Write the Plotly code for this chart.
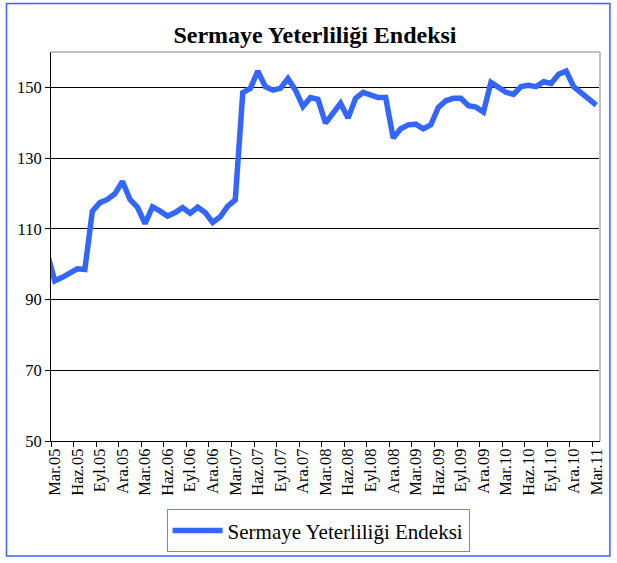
import plotly.graph_objects as go

# Turkish month abbreviations used for the monthly labels
month_abbr = ["Oca", "Şub", "Mar", "Nis", "May", "Haz",
              "Tem", "Ağu", "Eyl", "Eki", "Kas", "Ara"]

# Monthly series, Şub.05 .. Mar.11 (the first month sits just left of the axis)
months = [f"{month_abbr[(1 + k) % 12]}.{5 + (1 + k) // 12:02d}" for k in range(74)]
index_values = [
    103.0,
    95.3, 96.3, 97.5, 98.7, 98.5, 115.0, 117.4, 118.3, 119.9, 123.4, 118.3, 116.1,
    111.5, 116.2, 115.0, 113.6, 114.6, 116.0, 114.4, 116.1, 114.6, 111.8, 113.4, 116.4,
    118.2, 148.5, 149.7, 154.6, 150.2, 149.2, 149.7, 152.5, 149.2, 144.6, 147.1, 146.6,
    139.9, 142.7, 145.5, 141.3, 146.9, 148.6, 148.0, 147.1, 147.1, 135.7, 138.3, 139.4,
    139.6, 138.3, 139.4, 144.3, 146.2, 146.9, 146.9, 144.8, 144.4, 143.0, 151.4, 150.2,
    148.6, 148.0, 150.2, 150.6, 150.2, 151.6, 151.1, 153.7, 154.6, 150.2, 148.6, 146.9,
    145.0,
]

# Quarterly axis labels
tick_labels = [m for m in months if m.split(".")[0] in ("Mar", "Haz", "Eyl", "Ara")]
y_ticks = [50, 70, 90, 110, 130, 150]

series_name = "Sermaye Yeterliliği Endeksi"

# month position: Mar.05 -> 0
x_pos = [k - 1 for k in range(len(months))]
label_pos = [x_pos[months.index(t)] for t in tick_labels]

serif = "Liberation Serif, Times New Roman, serif"
line_blue = "#3366FF"

fig = go.Figure()
fig.add_trace(go.Scatter(
    x=x_pos, y=index_values, mode="lines", name=series_name,
    line=dict(color=line_blue, width=5.5),
    customdata=months, hovertemplate="%{customdata}: %{y}<extra></extra>",
))

fig.update_layout(
    width=617, height=563,
    margin=dict(l=51, r=11, t=52, b=119),
    paper_bgcolor="white", plot_bgcolor="white",
    font=dict(family=serif, color="black"),
    title=dict(text="<b>Sermaye Yeterliliği Endeksi</b>",
               font=dict(family=serif, size=24, color="black"),
               x=315 / 617, xref="container", xanchor="center",
               y=1 - 35 / 563, yref="container", yanchor="middle"),
    showlegend=True,
    legend=dict(x=0.4865, xanchor="center", y=-0.176, yanchor="top",
                orientation="h", bordercolor="#6688EE", borderwidth=1,
                bgcolor="white", font=dict(family=serif, size=21),
                itemwidth=50),
    xaxis=dict(
        range=[-0.5, 72.5], tickmode="array", tickvals=label_pos, ticktext=tick_labels,
        tickangle=-90, tickfont=dict(family=serif, size=16.5), ticks="",
        showgrid=False, zeroline=False, showline=True, linecolor="black", linewidth=1,
        minor=dict(tickmode="linear", tick0=-0.5, dtick=3, ticks="outside",
                   ticklen=5, tickcolor="black", tickwidth=1, showgrid=False),
        fixedrange=True,
    ),
    yaxis=dict(
        range=[50, 160], tickmode="array", tickvals=y_ticks,
        tickfont=dict(family=serif, size=16.5), ticks="outside", ticklen=5,
        tickcolor="black", showgrid=True, gridcolor="black", gridwidth=1,
        zeroline=False, showline=True, linecolor="black", linewidth=1,
        fixedrange=True,
    ),
)

# gray frame on top and right of the plot area
fig.add_shape(type="line", xref="paper", yref="paper", x0=0, x1=1, y0=1, y1=1,
              line=dict(color="#C0C0C0", width=2))
fig.add_shape(type="line", xref="paper", yref="paper", x0=1, x1=1, y0=0, y1=1,
              line=dict(color="#C0C0C0", width=2))
# outer chart border
fig.add_shape(type="rect", xref="paper", yref="paper",
              x0=(6 - 51) / 555, x1=(616 - 51) / 555,
              y0=(444 - 560) / 392, y1=(444 - 3) / 392,
              line=dict(color=line_blue, width=1.5), layer="below")

fig.write_html("out.html", config={"displayModeBar": False})
